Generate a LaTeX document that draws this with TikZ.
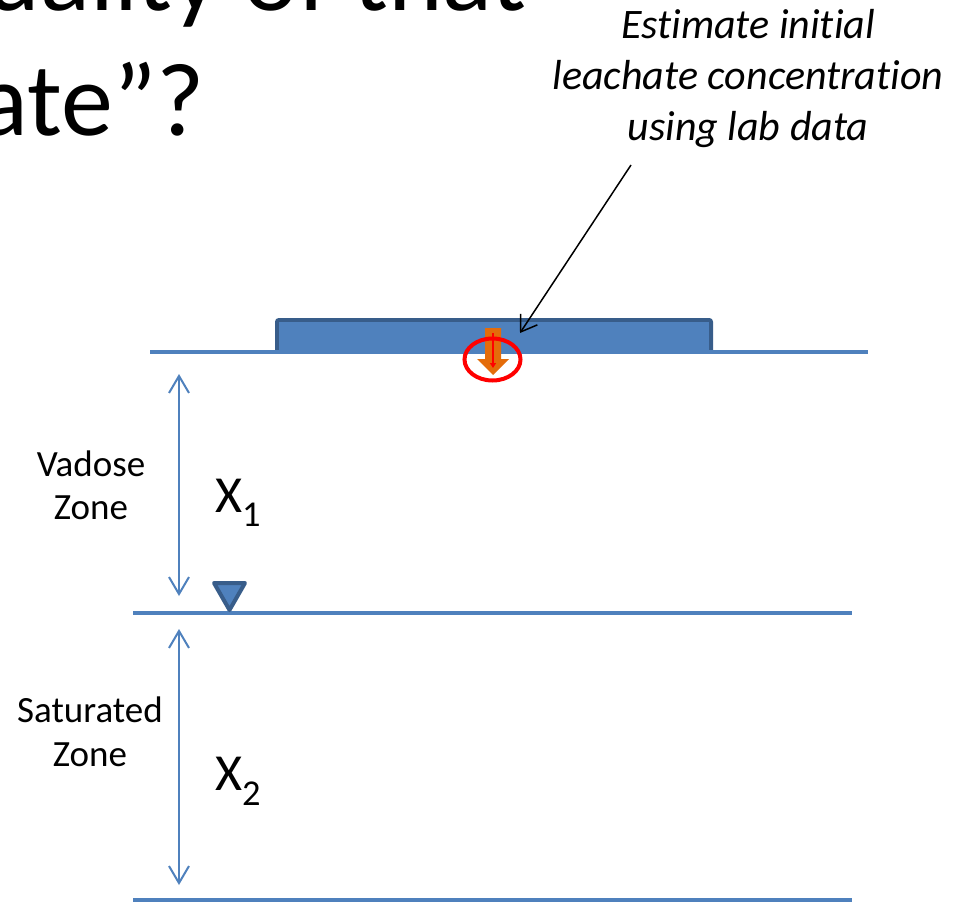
\documentclass[tikz,border=0pt]{standalone}
\usepackage{fontspec}
\setmainfont[RawFeature={-liga}]{Carlito}
\usetikzlibrary{arrows.meta}
\definecolor{sblue}{RGB}{79,129,189}
\definecolor{dblue}{RGB}{56,93,138}
\definecolor{lorange}{RGB}{228,108,10}
\tikzset{
  groundline/.style={draw=sblue, line width=4pt},
  dimarrow/.style={draw=sblue, line width=2pt, {Straight Barb[length=17pt,width=20pt]}-{Straight Barb[length=17pt,width=20pt]}},
  titletext/.style={inner sep=0pt, font=\fontsize{104}{127}\selectfont},
  anntext/.style={inner sep=0pt, font=\fontsize{42}{51}\selectfont\itshape},
  zonetext/.style={inner sep=0pt, font=\fontsize{37}{44}\selectfont},
  xtext/.style={inner sep=0pt, font=\fontsize{52}{60}\selectfont},
}
\begin{document}
\begin{tikzpicture}[x=1pt,y=-1pt]
\useasboundingbox (0,0) rectangle (967,902);
\clip (0,0) rectangle (967,902);
\fill[white] (0,0) rectangle (967,902);

% title fragments
\node[titletext, anchor=base east] (t1) at (527,10) {uality of that};
\node[titletext, anchor=base east] (t2) at (205,135) {ate”?};

% annotation
\node[anntext, anchor=base] (a1) at (748,38) {Estimate initial};
\node[anntext, anchor=base] (a2) at (748,89) {leachate concentration};
\node[anntext, anchor=base] (a3) at (748,140) {using lab data};

% landfill
\draw[draw=dblue, fill=sblue, line width=4pt, rounded corners=2pt] (277,352) -- (277,320) -- (711,320) -- (711,352);
\fill[sblue] (279,322) rectangle (709,352);
\draw[groundline] (150,352) -- (868,352);

% leachate arrow
\fill[lorange] (485,328) -- (501,328) -- (501,359) -- (509,359) -- (493,375) -- (477,359) -- (485,359) -- cycle;
\coordinate (r1) at (493,333);
\coordinate (r2) at (493,368);
\draw[red, line width=2.5pt, -{Triangle[length=5pt,width=6pt]}] (r1) -- (r2);
\draw[red, line width=4pt] (492.5,359.5) ellipse [x radius=28, y radius=21];

% annotation leader
\coordinate (l1) at (631,165);
\coordinate (l2) at (520,333);
\draw[black, line width=1.5pt, -{Straight Barb[length=15pt,width=20pt]}] (l1) -- (l2);

% water table and bottom
\draw[groundline] (133,613) -- (852,613);
\draw[groundline] (133,900) -- (852,900);
\draw[draw=dblue, fill=sblue, line width=4pt, line join=round] (214,583) -- (245,583) -- (229.5,610) -- cycle;

% dimension arrows
\coordinate (d1a) at (179,374);
\coordinate (d1b) at (179,596);
\coordinate (d2a) at (179,629);
\coordinate (d2b) at (179,885);
\draw[dimarrow] (d1a) -- (d1b);
\draw[dimarrow] (d2a) -- (d2b);

% labels
\node[zonetext, anchor=base] (v1) at (91,476) {Vadose};
\node[zonetext, anchor=base] (v2) at (91,519) {Zone};
\node[zonetext, anchor=base] (s1) at (90,722) {Saturated};
\node[zonetext, anchor=base] (s2) at (90,766) {Zone};
\node[xtext, anchor=base west] (x1) at (215,512) {X\textsubscript{1}};
\node[xtext, anchor=base west] (x2) at (215,790) {X\textsubscript{2}};
\end{tikzpicture}
\end{document}
